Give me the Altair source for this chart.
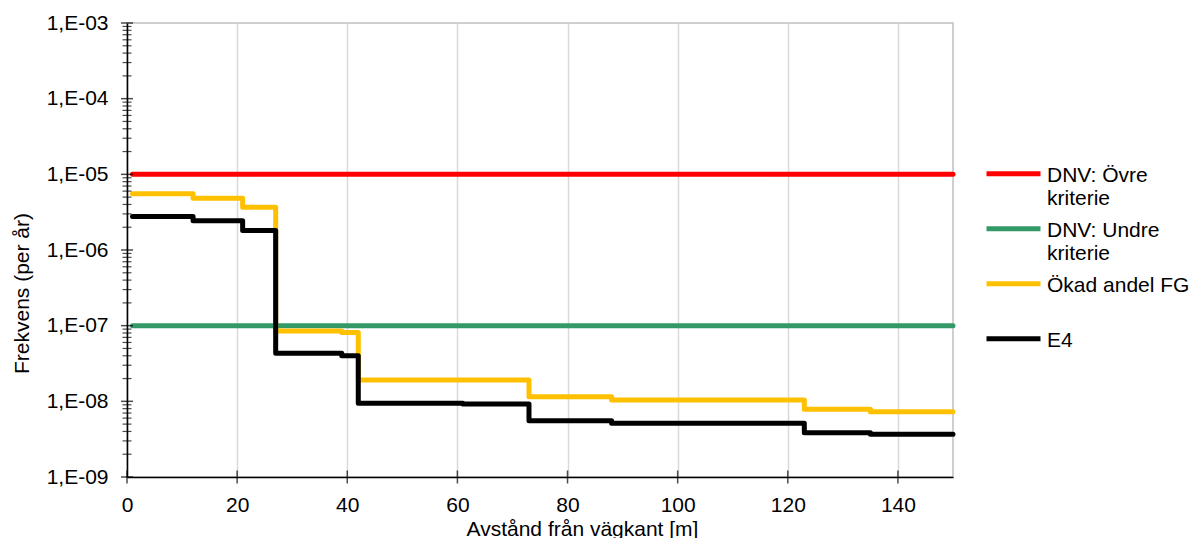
import altair as alt
import pandas as pd

FONT = "Liberation Sans"

# ---- data -------------------------------------------------------------
series_names = ["DNV: Övre kriterie", "DNV: Undre kriterie", "Ökad andel FG", "E4"]
series_colors = ["#ff0000", "#339966", "#ffc000", "#000000"]

upper_x = [1, 150]
upper_y = [1e-5, 1e-5]

lower_x = [1, 150]
lower_y = [1e-7, 1e-7]

fg_x = [1, 12, 12, 21, 21, 27, 27, 39, 39, 42, 42, 73, 73, 88, 88, 123, 123, 135, 135, 150]
fg_y = [5.52e-6, 5.52e-6, 4.84e-6, 4.84e-6, 3.68e-6, 3.68e-6, 8.5e-8, 8.5e-8, 8.1e-8, 8.1e-8,
        1.91e-8, 1.91e-8, 1.15e-8, 1.15e-8, 1.04e-8, 1.04e-8, 7.83e-9, 7.83e-9, 7.3e-9, 7.3e-9]

e4_x = [1, 12, 12, 21, 21, 27, 27, 39, 39, 42, 42, 61, 61, 73, 73, 88, 88, 123, 123, 135, 135, 150]
e4_y = [2.77e-6, 2.77e-6, 2.43e-6, 2.43e-6, 1.81e-6, 1.81e-6, 4.31e-8, 4.31e-8, 4.0e-8, 4.0e-8,
        9.4e-9, 9.4e-9, 9.2e-9, 9.2e-9, 5.55e-9, 5.55e-9, 5.12e-9, 5.12e-9, 3.85e-9, 3.85e-9,
        3.66e-9, 3.66e-9]

x_ticks = [0, 20, 40, 60, 80, 100, 120, 140]
y_major = [1e-9, 1e-8, 1e-7, 1e-6, 1e-5, 1e-4, 1e-3]
minor_mult = [2, 3, 4, 5, 6, 7, 8, 9]
y_minor = [m * d for d in y_major[:-1] for m in minor_mult]

# ---- tables -----------------------------------------------------------
rows = []
for name, xs, ys in zip(series_names,
                        [upper_x, lower_x, fg_x, e4_x],
                        [upper_y, lower_y, fg_y, e4_y]):
    for i, (xv, yv) in enumerate(zip(xs, ys)):
        rows.append({"series": name, "x": xv, "y": yv, "i": i})
lines_df = pd.DataFrame(rows)

ymaj_df = pd.DataFrame({"x": [0] * len(y_major), "y": y_major})
ymin_df = pd.DataFrame({"x": [0] * len(y_minor), "y": y_minor})
xt_df = pd.DataFrame({"x": x_ticks, "y": [1e-9] * len(x_ticks)})

# ---- scales & axes ----------------------------------------------------
x_scale = alt.Scale(domain=[0, 150], nice=False, zero=False)
y_scale = alt.Scale(type="log", domain=[1e-9, 1e-3], nice=False)

x_axis = alt.Axis(
    values=x_ticks, title="Avstånd från vägkant [m]",
    titleFont=FONT, titleFontSize=21, titleFontWeight="normal", titleColor="#000000",
    titleX=455, titleY=58, titleBaseline="alphabetic", titleAlign="center",
    labelFont=FONT, labelFontSize=21, labelColor="#000000", labelPadding=17,
    labelFlush=False, labelOverlap=False,
    ticks=False, tickSize=0,
    domainColor="#000000", domainWidth=1.5,
    grid=True, gridColor="#d9d9d9", gridWidth=1.5,
)
y_axis = alt.Axis(
    values=y_major, title="Frekvens (per år)",
    labelExpr="'1,E-0' + format(-round(log(datum.value) / LN10), 'd')",
    titleFont=FONT, titleFontSize=21, titleFontWeight="normal", titleColor="#000000",
    titleX=-99, titleY=270, titleBaseline="alphabetic", titleAlign="center", titleAngle=270,
    labelFont=FONT, labelFontSize=21, labelColor="#000000", labelPadding=19,
    labelOverlap=False,
    ticks=False, tickSize=0,
    domainColor="#000000", domainWidth=1.5,
    grid=False,
)

X = alt.X("x:Q", scale=x_scale, axis=x_axis)
Y = alt.Y("y:Q", scale=y_scale, axis=y_axis)

lines = alt.Chart(lines_df).mark_line(strokeWidth=5, strokeJoin="round", strokeCap="round").encode(
    x=X, y=Y,
    order=alt.Order("i:Q"),
    color=alt.Color(
        "series:N",
        scale=alt.Scale(domain=series_names, range=series_colors),
        legend=alt.Legend(
            title=None, orient="none", legendX=876, legendY=131.5, padding=0,
            symbolType="M-13.5,4.4H13.5", symbolSize=16, symbolStrokeWidth=5,
            labelFont=FONT, labelFontSize=21, labelColor="#000000",
            labelBaseline="top", labelOffset=23, labelLimit=400,
            rowPadding=0, gridAlign="all",
            labelExpr="split(replace(datum.label, ' kriterie', '|kriterie'), '|')",
        ),
    ),
)

ymaj = alt.Chart(ymaj_df).mark_tick(orient="horizontal", size=12, thickness=1.5, color="#000000").encode(x=X, y=Y)
ymin = alt.Chart(ymin_df).mark_tick(orient="horizontal", size=9, thickness=1.2, color="#000000").encode(x=X, y=Y)
xt = alt.Chart(xt_df).mark_tick(orient="vertical", size=13, thickness=1.5, color="#000000").encode(x=X, y=Y)

chart = alt.layer(lines, ymaj, ymin, xt).properties(
    width=826, height=454,
    padding={"left": 127, "top": 23, "right": 239, "bottom": 61},
    autosize=alt.AutoSizeParams(type="none"),
    background="#ffffff",
).configure(
    view={"stroke": "#c0c0c0", "strokeWidth": 1.5},
    style={"guide-label": {"lineHeight": 23}},
)

chart.save("out.html", embed_options={"renderer": "svg", "actions": False})
